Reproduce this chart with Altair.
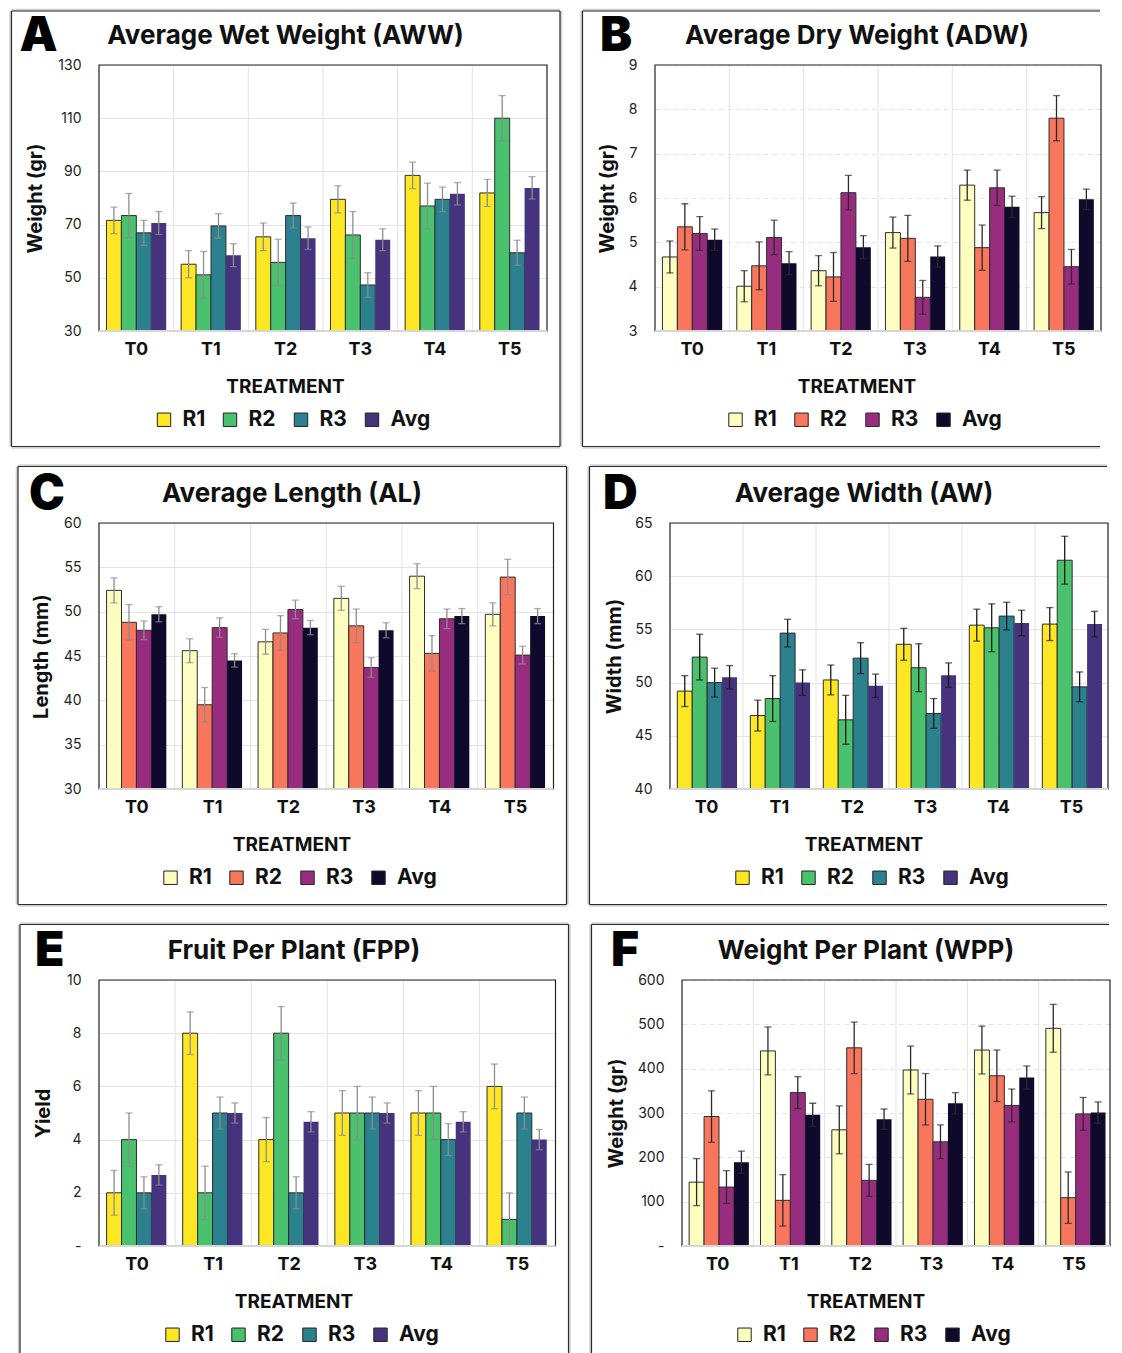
import altair as alt
import pandas as pd

TREAT = ["T0", "T1", "T2", "T3", "T4", "T5"]
SERIES = ["R1", "R2", "R3", "Avg"]

# ---- A: Average Wet Weight (AWW)
aww_r1 = [71.6, 55.1, 65.4, 79.5, 88.5, 81.9]
aww_r2 = [73.4, 51.1, 55.8, 66.1, 77.0, 110.0]
aww_r3 = [66.9, 69.5, 73.4, 47.3, 79.5, 59.4]
aww_avg = [70.6, 58.5, 64.9, 64.3, 81.6, 83.8]
aww_r1_err = [5.0, 5.1, 5.2, 5.1, 5.0, 5.1]
aww_r2_err = [8.3, 8.8, 8.7, 8.8, 8.6, 8.5]
aww_r3_err = [4.7, 4.6, 4.7, 4.6, 4.6, 4.7]
aww_avg_err = [4.3, 4.3, 4.2, 4.1, 4.2, 4.2]

# ---- B: Average Dry Weight (ADW)
adw_r1 = [4.67, 4.01, 4.36, 5.22, 6.29, 5.67]
adw_r2 = [5.35, 4.47, 4.22, 5.09, 4.88, 7.80]
adw_r3 = [5.20, 5.11, 6.12, 3.76, 6.23, 4.45]
adw_avg = [5.06, 4.53, 4.89, 4.68, 5.80, 5.97]
adw_r1_err = [0.36, 0.35, 0.34, 0.35, 0.34, 0.36]
adw_r2_err = [0.52, 0.54, 0.55, 0.52, 0.51, 0.51]
adw_r3_err = [0.38, 0.39, 0.39, 0.38, 0.40, 0.39]
adw_avg_err = [0.24, 0.26, 0.26, 0.24, 0.24, 0.23]

# ---- C: Average Length (AL)
al_r1 = [52.4, 45.6, 46.6, 51.5, 54.0, 49.7]
al_r2 = [48.8, 39.5, 47.6, 48.4, 45.3, 53.9]
al_r3 = [47.9, 48.2, 50.25, 43.7, 49.2, 45.1]
al_avg = [49.7, 44.5, 48.2, 47.9, 49.5, 49.5]
al_r1_err = [1.4, 1.35, 1.4, 1.35, 1.4, 1.3]
al_r2_err = [2.0, 1.95, 1.95, 1.9, 2.0, 2.0]
al_r3_err = [1.05, 1.1, 1.05, 1.1, 1.1, 1.0]
al_avg_err = [0.85, 0.75, 0.8, 0.85, 0.85, 0.85]

# ---- D: Average Width (AW)
aw_r1 = [49.2, 46.9, 50.25, 53.6, 55.4, 55.5]
aw_r2 = [52.4, 48.5, 46.5, 51.4, 55.15, 61.5]
aw_r3 = [50.0, 54.65, 52.3, 47.1, 56.25, 49.6]
aw_avg = [50.5, 50.0, 49.7, 50.7, 55.6, 55.5]
aw_r1_err = [1.45, 1.45, 1.4, 1.5, 1.5, 1.55]
aw_r2_err = [2.15, 2.15, 2.3, 2.25, 2.25, 2.25]
aw_r3_err = [1.35, 1.3, 1.45, 1.4, 1.3, 1.4]
aw_avg_err = [1.1, 1.2, 1.1, 1.15, 1.2, 1.2]

# ---- E: Fruit Per Plant (FPP)
fpp_r1 = [2, 8, 4, 5, 5, 6]
fpp_r2 = [4, 2, 8, 5, 5, 1]
fpp_r3 = [2, 5, 2, 5, 4, 5]
fpp_avg = [2.67, 5.0, 4.67, 5.0, 4.67, 4.0]
fpp_r1_err = [0.84, 0.8, 0.83, 0.84, 0.84, 0.84]
fpp_r2_err = [1.0, 1.0, 1.0, 1.0, 1.0, 1.0]
fpp_r3_err = [0.6, 0.6, 0.6, 0.6, 0.6, 0.6]
fpp_avg_err = [0.38, 0.38, 0.38, 0.38, 0.38, 0.38]

# ---- F: Weight Per Plant (WPP)
wpp_r1 = [144, 440, 262, 397, 442, 491]
wpp_r2 = [292, 103, 447, 331, 384, 109]
wpp_r3 = [133, 346, 148, 235, 317, 298]
wpp_avg = [189, 296, 286, 322, 380, 301]
wpp_r1_err = [53, 54, 54, 54, 54, 54]
wpp_r2_err = [58, 58, 58, 58, 58, 58]
wpp_r3_err = [37, 36, 36, 38, 37, 37]
wpp_avg_err = [25, 26, 23, 24, 26, 24]

VIRIDIS = ["#FDE725", "#4AC16D", "#2B818E", "#46337E"]
MAGMA = ["#FCFDBF", "#F8765C", "#982D80", "#0F0A2C"]
FONT = "Inter"


def make_df(vals, errs):
    rows = []
    for s, v, e in zip(SERIES, vals, errs):
        for t, vv, ee in zip(TREAT, v, e):
            rows.append({"treat": t, "series": s, "value": vv, "lo": vv - ee, "hi": vv + ee})
    return pd.DataFrame(rows)


RIGHT_EDGE = 1097
PANELS = [
    dict(letter="A", title="Average Wet Weight (AWW)", ytitle="Weight (gr)",
         df=make_df([aww_r1, aww_r2, aww_r3, aww_avg], [aww_r1_err, aww_r2_err, aww_r3_err, aww_avg_err]),
         domain=[30, 130], ticks=[30, 50, 70, 90, 110, 130], pal=VIRIDIS, err="#8c8c8c", dash=False, dashlbl=False,
         plotL=97.5, plotT=64, plotR=545.5, frameL=10, frameT=10, frameR=558.5, frameB=445.5,
         letterX=18, center=284),
    dict(letter="B", title="Average Dry Weight (ADW)", ytitle="Weight (gr)",
         df=make_df([adw_r1, adw_r2, adw_r3, adw_avg], [adw_r1_err, adw_r2_err, adw_r3_err, adw_avg_err]),
         domain=[3, 9], ticks=[3, 4, 5, 6, 7, 8, 9], pal=MAGMA, err="#2a2a2a", dash=True, dashlbl=False,
         plotL=651, plotT=64, plotR=RIGHT_EDGE, frameL=578.5, frameT=10, frameR=None, frameB=445.5,
         letterX=596, center=853),
    dict(letter="C", title="Average Length (AL)", ytitle="Length (mm)",
         df=make_df([al_r1, al_r2, al_r3, al_avg], [al_r1_err, al_r2_err, al_r3_err, al_avg_err]),
         domain=[30, 60], ticks=[30, 35, 40, 45, 50, 55, 60], pal=MAGMA, err="#8c8c8c", dash=False, dashlbl=False,
         plotL=91, plotT=519, plotR=545.5, frameL=10, frameT=462.5, frameR=558.5, frameB=900.5,
         letterX=21, center=284),
    dict(letter="D", title="Average Width (AW)", ytitle="Width (mm)",
         df=make_df([aw_r1, aw_r2, aw_r3, aw_avg], [aw_r1_err, aw_r2_err, aw_r3_err, aw_avg_err]),
         domain=[40, 65], ticks=[40, 45, 50, 55, 60, 65], pal=VIRIDIS, err="#1a1a1a", dash=False, dashlbl=False,
         plotL=659, plotT=519, plotR=RIGHT_EDGE, frameL=578.5, frameT=462.5, frameR=None, frameB=900.5,
         letterX=592, center=853),
    dict(letter="E", title="Fruit Per Plant (FPP)", ytitle="Yield",
         df=make_df([fpp_r1, fpp_r2, fpp_r3, fpp_avg], [fpp_r1_err, fpp_r2_err, fpp_r3_err, fpp_avg_err]),
         domain=[0, 10], ticks=[0, 2, 4, 6, 8, 10], pal=VIRIDIS, err="#8c8c8c", dash=False, dashlbl=True,
         plotL=89, plotT=973, plotR=545.5, frameL=10, frameT=917.5, frameR=558.5, frameB=None,
         letterX=25, center=284),
    dict(letter="F", title="Weight Per Plant (WPP)", ytitle="Weight (gr)",
         df=make_df([wpp_r1, wpp_r2, wpp_r3, wpp_avg], [wpp_r1_err, wpp_r2_err, wpp_r3_err, wpp_avg_err]),
         domain=[0, 600], ticks=[0, 100, 200, 300, 400, 500, 600], pal=MAGMA, err="#2a2a2a", dash=True, dashlbl=True,
         plotL=669, plotT=973, plotR=RIGHT_EDGE, frameL=578.5, frameT=917.5, frameR=None, frameB=None,
         letterX=598, center=853),
]

BOUND_BOTTOM = 1362
H = 266
ONE = pd.DataFrame({"k": [0]})
SEPS = pd.DataFrame({"treat": TREAT[1:]})


def seg(x1, y1, x2, y2, color, width):
    return alt.Chart(ONE).mark_rule(color=color, strokeWidth=width).encode(
        x=alt.value(x1), x2=alt.value(x2), y=alt.value(y1), y2=alt.value(y2))


def text(label, x, y, size, weight, align="center", color="#111", baseline="alphabetic"):
    return alt.Chart(ONE).mark_text(font=FONT, fontSize=size, fontWeight=weight, align=align,
                                     baseline=baseline, color=color).encode(
        x=alt.value(x), y=alt.value(y), text=alt.value(label))


def panel(c):
    pl, pt = c["plotL"], c["plotT"]
    W = c["plotR"] - pl
    fl = c["frameL"] - pl
    ft = c["frameT"] - pt
    fr = (c["frameR"] - pl) if c["frameR"] is not None else None
    fb = (c["frameB"] - pt) if c["frameB"] is not None else None
    bx2 = fr + 2 if fr is not None else W
    by2 = fb + 2 if fb is not None else BOUND_BOTTOM - pt
    ex = fr if fr is not None else W - 1
    ey = fb if fb is not None else by2 - 2

    layers = [alt.Chart(ONE).mark_rect(fill="white", opacity=0).encode(
        x=alt.value(fl - 2), x2=alt.value(bx2), y=alt.value(ft - 2), y2=alt.value(by2))]
    sh = "#d2d2d2"
    layers.append(seg(fl - 1, ft, fl - 1, ey, sh, 2.5))
    layers.append(seg(fl, ft - 1, ex, ft - 1, sh, 2.5))
    if fr is not None:
        layers.append(seg(fr + 1, ft, fr + 1, ey, sh, 2.5))
    if fb is not None:
        layers.append(seg(fl, fb + 1, ex, fb + 1, sh, 2.5))
    fc = "#2b2b2b"
    layers.append(seg(fl, ft, fl, ey, fc, 1.2))
    layers.append(seg(fl, ft, ex, ft, fc, 1.2))
    if fr is not None:
        layers.append(seg(fr, ft, fr, ey, fc, 1.2))
    if fb is not None:
        layers.append(seg(fl, fb, ex, fb, fc, 1.2))

    xscale = alt.Scale(paddingInner=0.2, paddingOuter=0.1)
    xenc = alt.X("treat:N", sort=TREAT, scale=xscale,
                 axis=alt.Axis(title=None, labelFont=FONT, labelFontSize=18, labelFontWeight="bold",
                               labelColor="#111", labelPadding=9, labelAngle=0, labelAlign="center",
                               labelBaseline="top", ticks=False, domain=False, grid=False))
    yaxis_kw = dict(values=c["ticks"], title=c["ytitle"], domain=False, ticks=False,
                    labelFont=FONT, labelFontSize=14, labelColor="#222", labelPadding=18,
                    grid=True, gridColor="#e4e4e4", gridWidth=1,
                    titleFont=FONT, titleFontSize=20, titleFontWeight="bold", titleColor="#111",
                    titleX=(c["frameL"] + 24.5 - pl) if c["frameL"] > 100 else (33.5 - pl),
                    titleY=H / 2, titleAngle=270, titleBaseline="middle", titleAlign="center")
    if c["dash"]:
        yaxis_kw["gridDash"] = [5, 4]
    if c["dashlbl"]:
        yaxis_kw["labelExpr"] = "datum.value == 0 ? '-' : datum.label"
    yscale = alt.Scale(domain=c["domain"], zero=False, nice=False)
    yenc = alt.Y("value:Q", scale=yscale, axis=alt.Axis(**yaxis_kw))
    xo = alt.XOffset("series:N", sort=SERIES, scale=alt.Scale(paddingInner=0, paddingOuter=0))

    # vertical separators halfway between treatment groups (band centre minus half a step)
    step = W / 6.0
    seps = alt.Chart(SEPS).mark_rule(color="#e2e2e2", strokeWidth=1, xOffset=-0.5 * step).encode(
        x=alt.X("treat:N", sort=TREAT), y=alt.value(0), y2=alt.value(H))

    legend_x = (152 if c["center"] < 500 else 721) - pl
    color = alt.Color("series:N", sort=SERIES, scale=alt.Scale(domain=SERIES, range=c["pal"]),
                      legend=alt.Legend(orient="none", legendX=legend_x, legendY=344, direction="horizontal",
                                        title=None, labelFont=FONT, labelFontSize=21, labelFontWeight="bold",
                                        labelColor="#111", symbolType="square", symbolSize=180,
                                        symbolStrokeColor="#222", symbolStrokeWidth=1, symbolOpacity=1,
                                        columnPadding=14, labelOffset=8))

    base = alt.Chart(c["df"])
    bars = base.mark_bar(stroke="#2e2e2e", strokeWidth=1).encode(
        x=xenc, y=yenc, y2=alt.datum(c["domain"][0]), xOffset=xo, color=color,
        strokeOpacity=alt.condition(alt.datum.series != "Avg", alt.value(1), alt.value(0)))
    errs = base.mark_rule(color=c["err"], strokeWidth=1.3).encode(
        x=alt.X("treat:N", sort=TREAT), xOffset=xo,
        y=alt.Y("lo:Q", scale=yscale, title=c["ytitle"]), y2="hi:Q")
    cap_hi = base.mark_tick(color=c["err"], thickness=1.3, size=7).encode(
        x=alt.X("treat:N", sort=TREAT), xOffset=xo, y=alt.Y("hi:Q", scale=yscale, title=c["ytitle"]))
    cap_lo = base.mark_tick(color=c["err"], thickness=1.3, size=7).encode(
        x=alt.X("treat:N", sort=TREAT), xOffset=xo, y=alt.Y("lo:Q", scale=yscale, title=c["ytitle"]))
    layers += [bars, errs, cap_hi, cap_lo, seps]

    layers.append(alt.Chart(ONE).mark_rect(fillOpacity=0, stroke="#222", strokeWidth=1.2).encode(
        x=alt.value(0), x2=alt.value(W), y=alt.value(0), y2=alt.value(H)))
    layers.append(seg(0, H, W, H, "#d6d6d6", 2))

    layers.append(text(c["letter"], c["letterX"] - pl, -52, 48, 900, align="left", color="#000", baseline="top"))
    layers.append(text(c["title"], c["center"] - pl, -21.3, 26, "bold"))
    layers.append(text("TREATMENT", c["center"] - pl, 327.7, 19, "bold"))

    return alt.layer(*layers).properties(width=W, height=H)


charts = [panel(c) for c in PANELS]
row1 = alt.hconcat(charts[0], charts[1], spacing=16).resolve_scale(color="independent")
row2 = alt.hconcat(charts[2], charts[3], spacing=16).resolve_scale(color="independent")
row3 = alt.hconcat(charts[4], charts[5], spacing=16).resolve_scale(color="independent")

chart = alt.vconcat(row1, row2, row3, spacing=13).resolve_scale(color="independent").properties(
    padding=0, background="white"
).configure_view(stroke="transparent")

chart.save("out.html", embed_options={"renderer": "svg", "actions": False})
